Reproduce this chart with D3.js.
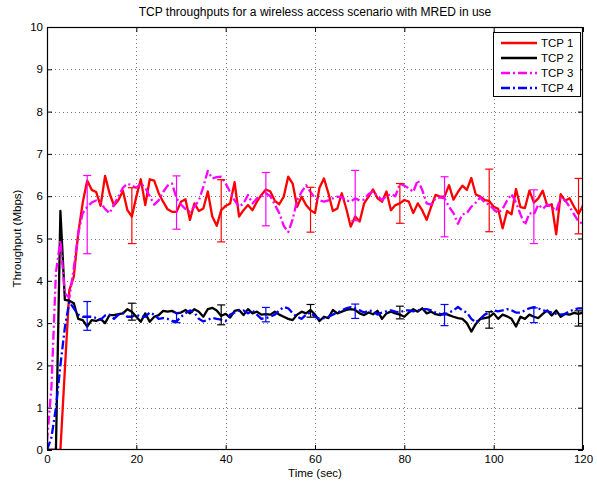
<!DOCTYPE html>
<html>
<head>
<meta charset="utf-8">
<script src="https://cdn.jsdelivr.net/npm/d3@7"></script>
<style>
  html, body { margin: 0; padding: 0; background: #fff; }
  text { font-family: "Liberation Sans", Arial, Helvetica, sans-serif; }
</style>
</head>
<body>
<svg id="chart" width="597" height="483"></svg>
<script>
// ---------------- DATA ----------------
const title = "TCP throughputs for a wireless access scenario with MRED in use";
const xLabel = "Time (sec)";
const yLabel = "Throughput (Mbps)";
const seriesNames = ["TCP 1", "TCP 2", "TCP 3", "TCP 4"];
const xTicks = [0, 20, 40, 60, 80, 100, 120];
const yTicks = [0, 1, 2, 3, 4, 5, 6, 7, 8, 9, 10];
const time = d3.range(0, 121); // one sample per second

const tcp1 = [0,0,0,0,1.9,3.78,4.1,5.13,5.85,6.37,
  6.15,6.1,5.77,6.48,6.07,5.78,5.91,6.13,5.67,5.52,
  5.99,6.4,5.79,6.4,6.37,6.07,5.87,5.69,5.63,5.63,
  5.87,5.93,5.44,5.83,5.65,5.71,6.11,5.52,5.30,5.67,
  5.77,5.83,6.33,5.52,5.67,5.79,5.67,5.87,6.03,6.16,
  6.11,5.89,5.81,5.99,6.46,6.30,5.75,5.99,5.79,5.67,
  5.60,6.2,6.42,6.07,5.65,5.71,6.07,5.71,5.28,5.52,
  5.40,5.83,5.99,6.16,5.95,5.87,6.11,5.67,5.79,5.83,
  5.91,5.87,5.60,5.83,5.67,5.44,5.75,6.03,5.99,5.99,
  6.26,5.92,6.1,6.25,6.15,6.43,6.04,5.99,5.91,5.89,
  5.75,5.7,5.24,5.65,5.57,6.17,5.74,5.72,6.13,5.85,
  5.95,6.13,5.77,5.81,5.10,6.05,5.89,5.95,5.75,5.58,
  5.78];
const tcp2 = [0,0,0,5.65,3.55,3.53,3.47,3.1,3.07,2.92,
  3.07,3.05,3.1,3.0,3.19,3.19,3.21,3.23,3.33,3.27,
  3.15,3.03,3.23,3.03,3.15,3.19,3.29,3.27,3.29,3.23,
  3.25,3.31,3.23,3.33,3.27,3.15,3.33,3.36,3.3,3.17,
  3.22,3.13,3.29,3.31,3.19,3.33,3.23,3.27,3.2,3.21,
  3.2,3.27,3.2,3.15,3.1,3.07,3.2,3.27,3.23,3.31,
  3.2,3.05,3.15,3.12,3.31,3.23,3.27,3.31,3.33,3.31,
  3.23,3.19,3.25,3.21,3.29,3.1,3.23,3.27,3.23,3.2,
  3.15,3.25,3.33,3.27,3.35,3.23,3.27,3.21,3.19,3.23,
  3.19,3.15,3.12,3.1,3.0,2.8,2.98,3.1,3.12,3.14,
  3.23,3.1,3.2,3.16,3.1,2.92,3.15,3.1,3.2,3.15,
  3.12,3.22,3.3,3.18,3.3,3.15,3.22,3.2,3.24,3.22,
  3.25];
const tcp3 = [0.2,1.5,4.2,4.95,3.7,3.6,4.3,5.13,5.6,5.75,
  5.85,5.9,5.85,5.7,5.6,5.8,6.0,6.2,6.3,6.25,
  6.2,6.3,6.2,6.0,5.8,5.9,6.1,6.25,6.3,5.95,
  5.8,5.7,5.63,5.75,5.9,6.22,6.6,6.42,6.45,6.46,
  6.3,6.1,5.9,5.75,5.83,6.03,5.83,5.95,6.0,6.07,
  6.0,5.8,5.6,5.3,5.15,5.45,5.91,6.1,6.26,6.1,
  5.95,5.9,5.87,5.9,5.95,5.99,5.98,5.9,5.87,5.95,
  5.9,5.92,6.05,6.11,6.0,5.91,6.0,6.05,6.0,6.3,
  6.25,6.19,6.1,6.38,6.15,5.83,5.8,5.95,5.97,5.95,
  5.75,5.6,5.35,5.57,5.6,5.75,5.85,5.97,5.85,5.8,
  5.69,5.6,5.7,5.9,6.05,5.85,5.57,5.32,5.6,5.57,
  5.8,5.7,5.8,5.75,5.65,5.97,5.9,5.75,5.57,5.4,
  5.35];
const tcp4 = [0,0.3,1.0,2.0,2.9,3.5,3.35,3.2,3.15,3.15,
  3.15,3.12,3.08,3.18,3.2,3.1,3.2,3.24,3.15,3.15,
  3.2,3.15,3.15,3.25,3.2,3.1,3.12,3.1,3.05,3.04,
  3.15,3.23,3.3,3.25,3.1,3.04,3.08,3.12,3.1,3.08,
  3.05,3.2,3.25,3.3,3.3,3.23,3.3,3.2,3.1,3.12,
  3.15,3.2,3.3,3.38,3.35,3.23,3.15,3.1,3.2,3.25,
  3.15,3.1,3.12,3.15,3.2,3.25,3.3,3.35,3.38,3.35,
  3.3,3.25,3.3,3.28,3.2,3.25,3.28,3.3,3.27,3.25,
  3.3,3.3,3.28,3.3,3.33,3.33,3.3,3.25,3.22,3.2,
  3.25,3.3,3.38,3.3,3.25,3.1,3.02,3.1,3.2,3.25,
  3.3,3.28,3.3,3.33,3.3,3.25,3.25,3.3,3.35,3.38,
  3.35,3.3,3.28,3.25,3.22,3.2,3.22,3.28,3.32,3.35,
  3.35];

// error bars: time, low, high
const err1T  = [19, 39, 59, 79, 99, 119];
const err1Lo = [4.88, 4.92, 5.15, 5.36, 5.16, 5.11];
const err1Hi = [6.20, 6.39, 6.21, 6.30, 6.64, 6.42];
const err2T  = [19, 39, 59, 79, 99, 119];
const err2Lo = [3.07, 2.96, 3.14, 3.10, 2.88, 2.93];
const err2Hi = [3.47, 3.43, 3.44, 3.40, 3.27, 3.29];
const err3T  = [9, 29, 49, 69, 89, 109];
const err3Lo = [4.64, 5.22, 5.30, 5.42, 5.04, 4.88];
const err3Hi = [6.49, 6.48, 6.56, 6.61, 6.46, 6.15];
const err4T  = [9, 29, 49, 69, 89, 109];
const err4Lo = [2.83, 3.01, 3.03, 3.11, 2.94, 3.01];
const err4Hi = [3.51, 3.25, 3.37, 3.45, 3.44, 3.36];

// ---------------- CHART ----------------
const W = 597, H = 483;
const plot = {left: 47, right: 583, top: 27, bottom: 450};
const svg = d3.select("#chart");
svg.append("rect").attr("width", W).attr("height", H).attr("fill", "#fff");

const x = d3.scaleLinear().domain([0, 120]).range([plot.left, plot.right]);
const y = d3.scaleLinear().domain([0, 10]).range([plot.bottom, plot.top]);

// grid
const grid = svg.append("g").attr("stroke", "#777").attr("stroke-width", 1).attr("stroke-dasharray", "1,3");
grid.selectAll("line.gx").data(xTicks.slice(1, -1)).enter().append("line")
  .attr("x1", d => Math.round(x(d)) + 0.5).attr("x2", d => Math.round(x(d)) + 0.5)
  .attr("y1", plot.top).attr("y2", plot.bottom);
grid.selectAll("line.gy").data(yTicks.slice(1, -1)).enter().append("line")
  .attr("y1", d => Math.round(y(d)) + 0.5).attr("y2", d => Math.round(y(d)) + 0.5)
  .attr("x1", plot.left).attr("x2", plot.right);

// axes (ticks inward, mirrored)
const fontSize = "11.5px";
const axB = d3.axisBottom(x).tickValues(xTicks).tickSizeInner(-5).tickSizeOuter(0).tickPadding(5);
const axT = d3.axisTop(x).tickValues(xTicks).tickSizeInner(-5).tickSizeOuter(0).tickFormat("");
const axL = d3.axisLeft(y).tickValues(yTicks).tickSizeInner(-5).tickSizeOuter(0).tickPadding(4);
const axR = d3.axisRight(y).tickValues(yTicks).tickSizeInner(-5).tickSizeOuter(0).tickFormat("");
function styleAxis(g) {
  g.select(".domain").remove();
  g.selectAll("line").attr("stroke", "#000");
  g.selectAll("text").attr("fill", "#000").style("font-size", fontSize)
   .style("font-family", '"Liberation Sans", Arial, sans-serif');
}
svg.append("g").attr("transform", `translate(0,${plot.bottom})`).call(axB).call(styleAxis);
svg.append("g").attr("transform", `translate(0,${plot.top})`).call(axT).call(styleAxis);
svg.append("g").attr("transform", `translate(${plot.left},0)`).call(axL).call(styleAxis);
svg.append("g").attr("transform", `translate(${plot.right},0)`).call(axR).call(styleAxis);

// clip
svg.append("clipPath").attr("id", "clip").append("rect")
  .attr("x", plot.left).attr("y", plot.top)
  .attr("width", plot.right - plot.left).attr("height", plot.bottom - plot.top);

const series = [
  {name: seriesNames[0], values: tcp1, color: "#ff0000", dash: null,
   eT: err1T, eLo: err1Lo, eHi: err1Hi},
  {name: seriesNames[1], values: tcp2, color: "#000000", dash: null,
   eT: err2T, eLo: err2Lo, eHi: err2Hi},
  {name: seriesNames[2], values: tcp3, color: "#ff00ff", dash: "9,3,2,3",
   eT: err3T, eLo: err3Lo, eHi: err3Hi},
  {name: seriesNames[3], values: tcp4, color: "#0000ff", dash: "9,3,2,3",
   eT: err4T, eLo: err4Lo, eHi: err4Hi}
];

const line = d3.line().x((d, i) => x(time[i])).y(d => y(d));
const lines = svg.append("g").attr("clip-path", "url(#clip)");
series.forEach(s => {
  lines.append("path").datum(s.values)
    .attr("fill", "none").attr("stroke", s.color).attr("stroke-width", 2.3)
    .attr("stroke-linejoin", "round")
    .attr("stroke-dasharray", s.dash)
    .attr("d", line);
});

// error bars
const eb = svg.append("g").attr("clip-path", "url(#clip)");
series.forEach(s => {
  s.eT.forEach((t, i) => {
    const cx = x(t), y1 = y(s.eLo[i]), y2 = y(s.eHi[i]);
    const g = eb.append("g").attr("stroke", s.color).attr("stroke-width", 1.2);
    g.append("line").attr("x1", cx).attr("x2", cx).attr("y1", y1).attr("y2", y2);
    g.append("line").attr("x1", cx - 4).attr("x2", cx + 4).attr("y1", y1).attr("y2", y1);
    g.append("line").attr("x1", cx - 4).attr("x2", cx + 4).attr("y1", y2).attr("y2", y2);
  });
});

// box
svg.append("rect").attr("x", plot.left + 0.5).attr("y", plot.top + 0.5)
  .attr("width", plot.right - plot.left - 1).attr("height", plot.bottom - plot.top - 1)
  .attr("fill", "none").attr("stroke", "#000").attr("stroke-width", 1.2);

// title & labels
svg.append("text").attr("x", (plot.left + plot.right) / 2).attr("y", 16)
  .attr("text-anchor", "middle").style("font-size", "12px").text(title);
svg.append("text").attr("x", (plot.left + plot.right) / 2).attr("y", 477)
  .attr("text-anchor", "middle").style("font-size", "11.5px").text(xLabel);
svg.append("text").attr("transform", `translate(21,${(plot.top + plot.bottom) / 2}) rotate(-90)`)
  .attr("text-anchor", "middle").style("font-size", "11.5px").text(yLabel);

// legend
const lg = svg.append("g");
lg.append("rect").attr("x", 493.5).attr("y", 32.5).attr("width", 87).attr("height", 64)
  .attr("fill", "#fff").attr("stroke", "#000").attr("stroke-width", 1);
series.forEach((s, i) => {
  const ly = 43 + i * 15;
  lg.append("line").attr("x1", 501).attr("x2", 537).attr("y1", ly).attr("y2", ly)
    .attr("stroke", s.color).attr("stroke-width", 2.3).attr("stroke-dasharray", s.dash);
  lg.append("text").attr("x", 541).attr("y", ly + 4).style("font-size", "11.5px").text(s.name);
});
</script>
</body>
</html>
